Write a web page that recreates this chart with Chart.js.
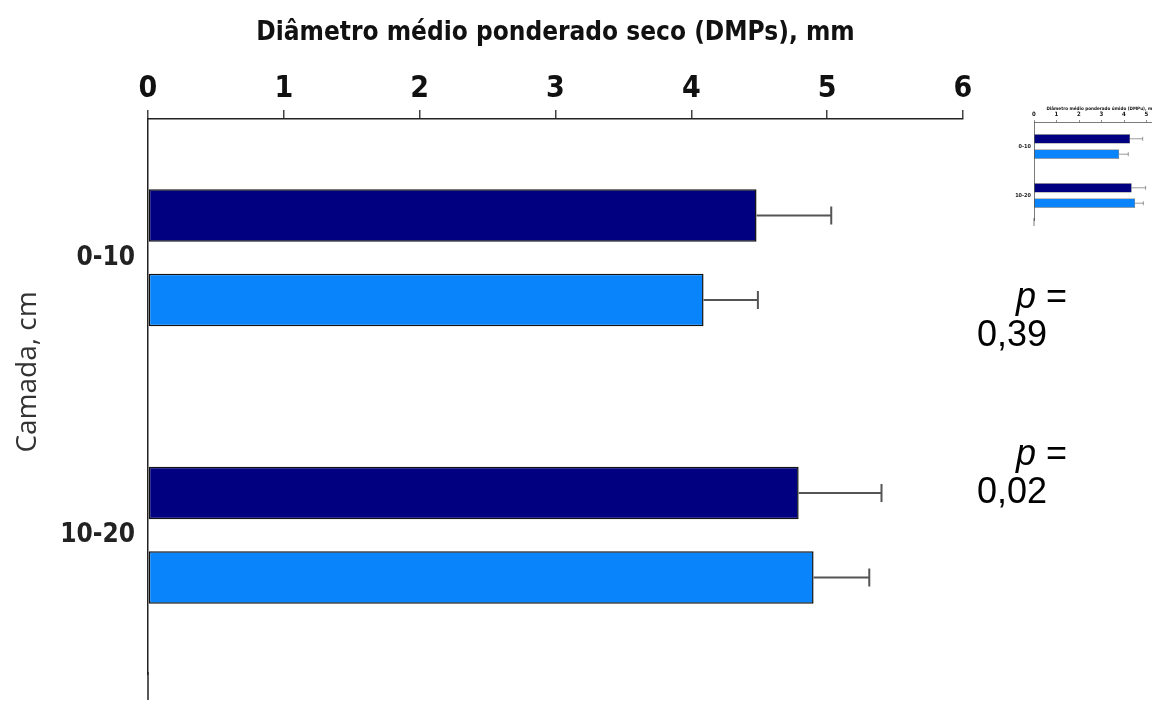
<!DOCTYPE html>
<html>
<head>
<meta charset="utf-8">
<script src="https://cdn.jsdelivr.net/npm/chart.js@4"></script>
<style>
  html, body { margin: 0; padding: 0; background: #fff; overflow: hidden; }
  #wrap { position: relative; width: 1152px; height: 704px; overflow: hidden; }
  #main { position: absolute; left: 0; top: 0; }
  #inset { position: absolute; left: 1000px; top: 90px; filter: blur(0.4px); }
</style>
</head>
<body>
<div id="wrap">
  <canvas id="main" width="1152" height="704"></canvas>
  <canvas id="inset" width="190" height="140"></canvas>
</div>
<script>
// camadas de solo
const camadas = ['0-10', '10-20'];

// DMPs (seco), mm
const dmpsSerie1 = [4.48, 4.79];
const dmpsErro1 = [0.55, 0.61];
const dmpsSerie2 = [4.09, 4.90];
const dmpsErro2 = [0.40, 0.41];

// DMPu (úmido), mm - gráfico pequeno
const dmpuSerie1 = [4.27, 4.34];
const dmpuErro1 = [0.56, 0.62];
const dmpuSerie2 = [3.78, 4.49];
const dmpuErro2 = [0.41, 0.37];

const pValores = ['0,39', '0,02'];

const corEscura = '#000080';
const corClara = '#0a84fb';
const narrow = "'Liberation Sans Narrow', 'Arial Narrow', 'DejaVu Sans Condensed', sans-serif";

const errorBars = {
    id: 'errorBars',
    afterDatasetsDraw(chart, args, opts) {
        const ctx = chart.ctx;
        const xScale = chart.scales.x;
        ctx.save();
        ctx.strokeStyle = opts.color || '#555';
        ctx.lineWidth = opts.width || 2;
        chart.data.datasets.forEach((ds, i) => {
            const meta = chart.getDatasetMeta(i);
            meta.data.forEach((bar, j) => {
                const x0 = xScale.getPixelForValue(ds.data[j]);
                const x1 = xScale.getPixelForValue(ds.data[j] + ds.erros[j]);
                const y = bar.y;
                ctx.beginPath();
                ctx.moveTo(x0, y);
                ctx.lineTo(x1, y);
                ctx.moveTo(x1, y - opts.cap / 2);
                ctx.lineTo(x1, y + opts.cap / 2);
                ctx.stroke();
            });
        });
        ctx.restore();
    }
};

// eixo vertical continua abaixo da área das barras
const axisExtend = {
    id: 'axisExtend',
    afterDraw(chart, args, opts) {
        const ctx = chart.ctx;
        const a = chart.chartArea;
        ctx.save();
        ctx.strokeStyle = opts.color;
        ctx.lineWidth = opts.width;
        ctx.beginPath();
        ctx.moveTo(a.left, a.bottom - 2);
        ctx.lineTo(a.left, a.bottom + opts.extra);
        ctx.stroke();
        ctx.restore();
    }
};

// título do eixo das camadas e valores de p à direita
const textos = {
    id: 'textos',
    afterDraw(chart) {
        const ctx = chart.ctx;
        ctx.save();
        ctx.translate(28, 372);
        ctx.rotate(-Math.PI / 2);
        ctx.fillStyle = '#333';
        ctx.font = "28px 'Open Sans', 'Noto Sans', sans-serif";
        ctx.textAlign = 'center';
        ctx.textBaseline = 'middle';
        ctx.fillText('Camada, cm', 0, 0);
        ctx.restore();

        ctx.save();
        ctx.fillStyle = '#000';
        ctx.textBaseline = 'middle';
        ctx.textAlign = 'left';
        const linhas = [298, 455];
        pValores.forEach((p, i) => {
            const y = linhas[i];
            ctx.font = "italic 36px 'Liberation Sans', Arial, sans-serif";
            ctx.fillText('p', 1016, y);
            const w = ctx.measureText('p').width;
            ctx.font = "36px 'Liberation Sans', Arial, sans-serif";
            ctx.fillText(' =', 1016 + w, y);
            ctx.fillText(p, 977, y + 38);
        });
        ctx.restore();
    }
};

function montarGrafico(canvas, cfg) {
    return new Chart(canvas, {
        type: 'bar',
        data: {
            labels: camadas,
            datasets: [{
                data: cfg.serie1,
                erros: cfg.erro1,
                backgroundColor: corEscura,
                borderColor: '#111',
                borderWidth: cfg.borda,
                borderSkipped: false
            }, {
                data: cfg.serie2,
                erros: cfg.erro2,
                backgroundColor: corClara,
                borderColor: '#111',
                borderWidth: cfg.borda,
                borderSkipped: false
            }]
        },
        options: {
            indexAxis: 'y',
            responsive: false,
            animation: false,
            events: [],
            categoryPercentage: cfg.catPct,
            barPercentage: cfg.barPct,
            layout: { padding: cfg.padding },
            plugins: {
                legend: { display: false },
                tooltip: { enabled: false },
                errorBars: { color: '#555', width: cfg.erroLargura, cap: cfg.cap },
                axisExtend: { color: '#222', width: cfg.eixo, extra: cfg.extra }
            },
            scales: {
                x: {
                    position: 'top',
                    min: 0,
                    max: 6,
                    ticks: {
                        stepSize: 1,
                        color: '#111',
                        padding: cfg.tickPad,
                        font: { family: narrow, size: cfg.tickFonte, weight: 'bold' }
                    },
                    grid: {
                        drawOnChartArea: false,
                        drawTicks: true,
                        tickLength: cfg.tickLen,
                        color: '#444',
                        lineWidth: cfg.eixo
                    },
                    border: { display: true, color: '#222', width: cfg.eixo },
                    title: {
                        display: true,
                        text: cfg.titulo,
                        color: '#111',
                        padding: cfg.tituloPad,
                        font: { family: narrow, size: cfg.tituloFonte, weight: 'bold' }
                    },
                    afterFit: s => { s.height = cfg.alturaX; }
                },
                y: {
                    ticks: {
                        color: '#222',
                        padding: cfg.catPad,
                        font: { family: narrow, size: cfg.catFonte, weight: 'bold' }
                    },
                    grid: { drawOnChartArea: false, drawTicks: false },
                    border: { display: true, color: '#222', width: cfg.eixo },
                    afterFit: s => { s.width = cfg.larguraY; }
                }
            }
        },
        plugins: cfg.plugins
    });
}

montarGrafico(document.getElementById('main'), {
    serie1: dmpsSerie1, erro1: dmpsErro1,
    serie2: dmpsSerie2, erro2: dmpsErro2,
    titulo: 'Diâmetro médio ponderado seco (DMPs), mm',
    borda: 1.5, catPct: 0.61, barPct: 0.62,
    padding: { left: 0, top: 0, right: 189, bottom: 30 },
    erroLargura: 2, cap: 18, eixo: 1.5, extra: 26,
    tickPad: 3, tickFonte: 30, tickLen: 9,
    tituloPad: { top: 18, bottom: 0 }, tituloFonte: 26,
    alturaX: 119, catPad: 13, catFonte: 26, larguraY: 148,
    plugins: [errorBars, axisExtend, textos]
});

montarGrafico(document.getElementById('inset'), {
    serie1: dmpuSerie1, erro1: dmpuErro1,
    serie2: dmpuSerie2, erro2: dmpuErro2,
    titulo: 'Diâmetro médio ponderado úmido (DMPu), mm',
    borda: 0.5, catPct: 0.63, barPct: 0.6,
    padding: { left: 0, top: 0, right: 21, bottom: 10 },
    erroLargura: 0.6, cap: 4, eixo: 0.6, extra: 6,
    tickPad: 2, tickFonte: 6, tickLen: 2,
    tituloPad: { top: 16, bottom: 0 }, tituloFonte: 4.6,
    alturaX: 32, catPad: 3, catFonte: 5.5, larguraY: 34,
    plugins: [errorBars, axisExtend]
});
</script>
</body>
</html>
